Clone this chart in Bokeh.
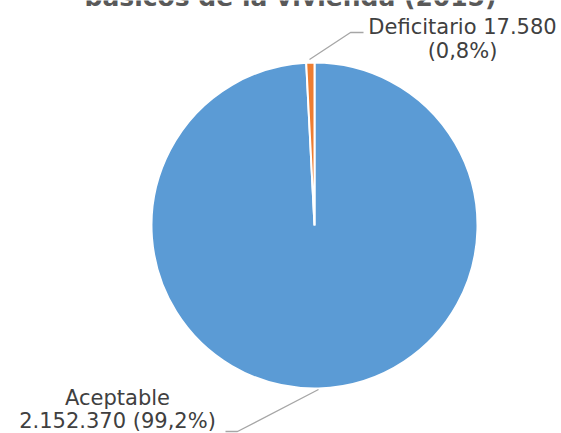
import math
from bokeh.plotting import figure
from bokeh.models import Range1d, ColumnDataSource
from bokeh.core.properties import value
from bokeh.embed import file_html
from bokeh.resources import INLINE

# ---- data ----
categories = ["Aceptable", "Deficitario"]
counts = [2152370, 17580]
colors = ["#5B9BD5", "#ED7D31"]
title_line = "básicos de la vivienda (2015)"

W, H = 561, 433
p = figure(width=W, height=H, output_backend="svg", toolbar_location=None,
           x_range=Range1d(0, W), y_range=Range1d(0, H), min_border=0,
           margin=(0, 0, 0, 0))
p.axis.visible = False
p.grid.visible = False
p.outline_line_color = None
p.background_fill_color = "white"
p.border_fill_color = "white"

def Y(py):
    return H - py

TXT_OFF = 8  # baseline correction

def TY(py):
    return H - (py - TXT_OFF)

total = sum(counts)
fracs = [c / total for c in counts]

def fmt_int(n):
    return f"{n:,}".replace(",", ".")

def fmt_pct(f):
    return f"{f*100:.1f}".replace(".", ",") + "%"

# Excel pie: first slice starts at 12 o'clock, going clockwise
start_deg = 90.0
starts, ends = [], []
cum = 0.0
for f in fracs:
    a_from = start_deg - cum * 360
    a_to = start_deg - (cum + f) * 360
    starts.append(math.radians(a_to))
    ends.append(math.radians(a_from))
    cum += f

cx, cy, r = 314, Y(225), 163
src = ColumnDataSource(dict(start=starts, end=ends, color=colors))
p.wedge(x=cx, y=cy, radius=r, start_angle="start", end_angle="end",
        fill_color="color", line_color="white", line_width=2, source=src)

# leader lines
p.line([309, 350, 363], [Y(59), Y(32), Y(32)], line_color="#A6A6A6", line_width=1.3)
p.line([318, 237, 225], [Y(389), Y(431), Y(431)], line_color="#A6A6A6", line_width=1.3)

font = value("DejaVu Sans")
lab_col = "#404040"

lines_acc = [categories[0], f"{fmt_int(counts[0])} ({fmt_pct(fracs[0])})"]
lines_def = [f"{categories[1]} {fmt_int(counts[1])}", f"({fmt_pct(fracs[1])})"]

p.text(x=[117, 117], y=[TY(405), TY(428)], text=lines_acc, text_font=font,
       text_font_size="21px", text_color=lab_col, text_align="center",
       text_baseline="alphabetic")
p.text(x=[462, 462], y=[TY(34), TY(58)], text=lines_def, text_font=font,
       text_font_size="21px", text_color=lab_col, text_align="center",
       text_baseline="alphabetic")

p.text(x=[290], y=[TY(5)], text=[title_line], text_font=font,
       text_font_size="25px", text_font_style="bold", text_color="#595959",
       text_align="center", text_baseline="alphabetic")

open("out.html", "w").write(file_html(p, INLINE))
